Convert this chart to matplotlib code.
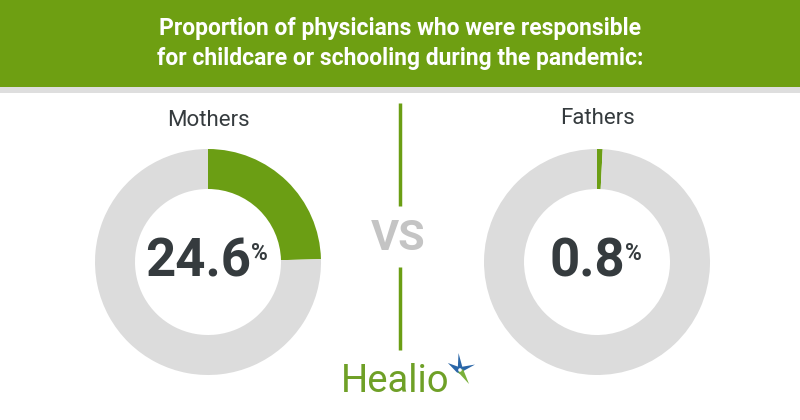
import matplotlib
matplotlib.use("Agg")
import matplotlib.pyplot as plt
from matplotlib.patches import Rectangle, Polygon
import numpy as np

# data
groups = ["Mothers", "Fathers"]
shares = [24.6, 0.8]
value_labels = ["24.6", "0.8"]
title_lines = ["Proportion of physicians who were responsible",
               "for childcare or schooling during the pandemic:"]

green = "#6b9e14"
ring_gray = "#dcdcdc"
dark = "#353b3e"

W, H = 800, 420
fig = plt.figure(figsize=(8, 4.2), dpi=100)
ax = fig.add_axes([0, 0, 1, 1])

# header band (y measured from the bottom)
ax.add_patch(Rectangle((0, H - 87), W, 87, color="#6e9f12", lw=0))
ax.add_patch(Rectangle((0, H - 93), W, 6, color="#dedede", lw=0))

ax.text(400, H - 28, title_lines[0], ha="center", va="center", color="white",
        fontsize=16.5, fontweight="bold", family="Roboto")
ax.text(400, H - 59, title_lines[1], ha="center", va="center", color="white",
        fontsize=16.5, fontweight="bold", family="Roboto")

centers = [(208, H - 262), (597, H - 262)]
label_y = [H - 120, H - 119]
for i in range(len(groups)):
    cx, cy = centers[i]
    ax.pie([shares[i], 100 - shares[i]], colors=[green, ring_gray],
           center=(cx, cy), radius=113, startangle=90, counterclock=False,
           wedgeprops=dict(width=40, linewidth=0))
    ax.text(cx, label_y[i], groups[i], ha="center", va="center", color=dark,
            fontsize=16, family="Roboto")
    t = ax.text(cx - 10, cy, value_labels[i], ha="center", va="center",
                color=dark, fontsize=38, fontweight="bold", family="Roboto")
    ax.annotate("%", xy=(1.0, 0.9), xycoords=t, xytext=(0, 0),
                textcoords="offset points", ha="left", va="top", color=dark,
                fontsize=16.5, fontweight="bold", family="Roboto")

# divider and VS
ax.plot([400, 400], [H - 103, H - 206], color=green, lw=2.5, solid_capstyle="butt")
ax.plot([400, 400], [H - 267, H - 350], color=green, lw=2.5, solid_capstyle="butt")
ax.text(398, H - 238, "VS", ha="center", va="center", color="#c4c4c4",
        fontsize=31, fontweight="bold", family="Roboto")

# logo
ax.text(341, H - 381, "Healio", ha="left", va="center", color="#6fa027",
        fontsize=27.5, family="Roboto")
sx, sy = 460, H - 370
pts = []
tips = {95: 17, 150: 14, 20: 16}
for a_deg in [95, 122, 150, 215, 275, 350, 20, 55]:
    r = tips.get(a_deg, 4)
    a = np.deg2rad(a_deg)
    pts.append([sx + r * np.cos(a), sy + r * np.sin(a)])
ax.add_patch(Polygon(pts, color="#2a66a8", lw=0))
ax.add_patch(Polygon([[sx - 2, sy - 2], [sx + 3, sy + 1], [sx + 9, sy - 14]],
                     color="#7ab03a", lw=0))
ax.add_patch(plt.Circle((sx, sy), 1.8, color="white", lw=0))

ax.set_xlim(0, W)
ax.set_ylim(0, H)
ax.set_aspect("equal")
ax.axis("off")
fig.savefig("out.png", dpi=100)
